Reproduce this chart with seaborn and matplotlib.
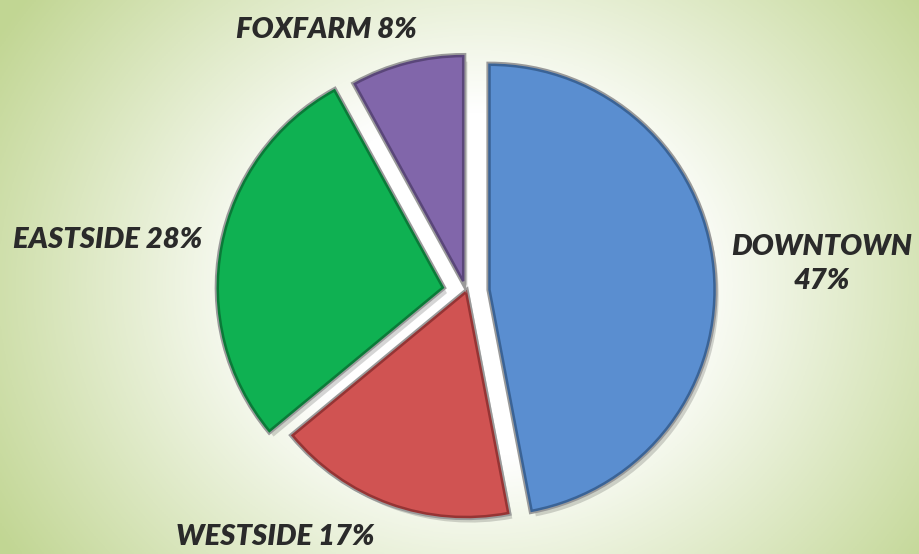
import numpy as np
import seaborn as sns
import matplotlib.pyplot as plt
import matplotlib.patheffects as pe

sites = ['DOWNTOWN', 'WESTSIDE', 'EASTSIDE', 'FOXFARM']
shares = [47, 17, 28, 8]
labels = ['DOWNTOWN\n47%', 'WESTSIDE 17%', 'EASTSIDE 28%', 'FOXFARM 8%']
colors = ['#5a8ed0', '#d05352', '#0fb152', '#8166aa']
edges = ['#3a6396', '#963434', '#0a7a38', '#5a467a']

sns.set_theme(style='white')
plt.rcParams['font.family'] = ['Lato', 'DejaVu Sans']

fig = plt.figure(figsize=(9.19, 5.54), dpi=100)

# radial background: white in the middle, pale green out at the corners
bg = fig.add_axes([0, 0, 1, 1])
xx, yy = np.meshgrid(np.linspace(0, 919, 460), np.linspace(0, 554, 277))
d = np.hypot(xx - 480, (yy - 285) * 1.15)
t = np.clip((d - 200) / 360, 0, 1)
white = np.array([1.0, 1.0, 1.0])
green = np.array([0.76, 0.84, 0.58])
img = white[None, None, :] * (1 - t[..., None]) + green[None, None, :] * t[..., None]
bg.imshow(img, extent=[0, 919, 554, 0], aspect='auto')
bg.axis('off')

ax = fig.add_axes([0, 0, 1, 1])
ax.patch.set_alpha(0)

wedges, _ = ax.pie(shares, colors=colors, startangle=90, counterclock=False,
                   explode=[0.105, 0, 0.105, 0.05], radius=1,
                   wedgeprops=dict(linewidth=1.8))
for w, ec in zip(wedges, edges):
    w.set_edgecolor(ec)
    w.set_path_effects([
        pe.SimplePatchShadow(offset=(3, -4), shadow_rgbFace='k', alpha=0.18),
        pe.Stroke(linewidth=4.5, foreground='#9a9a9a'),
        pe.Normal(),
    ])

# pie() resets the limits, so set them afterwards (225 px per unit)
r = 225
cx, cy = 466, 292
ax.set_xlim(-cx / r, (919 - cx) / r)
ax.set_ylim(-(554 - cy) / r, cy / r)
ax.set_aspect('equal')
ax.axis('off')

label_pos = [(822, 264), (275, 537), (108, 240), (326, 30)]
for txt, (px, py) in zip(labels, label_pos):
    fig.text(px / 919, 1 - py / 554, txt, ha='center', va='center',
             fontsize=21, fontweight='heavy', fontstyle='italic',
             color='#2a2a2a', linespacing=1.4)

fig.savefig('out.png', dpi=100)
